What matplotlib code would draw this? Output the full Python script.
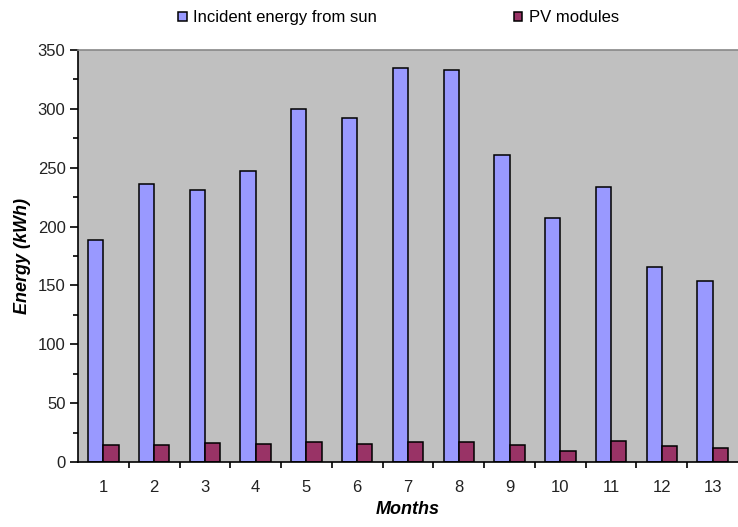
import numpy as np
import matplotlib.pyplot as plt
from matplotlib.ticker import MultipleLocator

plt.rcParams['font.family'] = ['Liberation Sans', 'DejaVu Sans']

months = list(range(1, 14))
incident = [189, 236, 231, 247, 300, 292, 335, 333, 261, 207, 234, 166, 154]
pv = [14.5, 14.5, 16, 15, 17.3, 15, 17.3, 17.3, 14.5, 9.3, 17.6, 13.3, 11.6]

fig = plt.figure(figsize=(7.38, 5.27), dpi=100)
ax = fig.add_axes([0.1057, 0.1233, 0.8943, 0.7818])
ax.set_facecolor('#C0C0C0')

x = np.array(months)
w = 0.3
ax.bar(x - w / 2, incident, w, color='#9999FF', edgecolor='black', linewidth=1.1,
       label='Incident energy from sun')
ax.bar(x + w / 2, pv, w, color='#993366', edgecolor='black', linewidth=1.1,
       label='PV modules')

ax.set_xlim(0.5, 13.5)
ax.set_ylim(0, 350)
ax.yaxis.set_major_locator(MultipleLocator(50))
ax.yaxis.set_minor_locator(MultipleLocator(25))

# labels at month centres, ticks on the boundaries between months
ax.set_xticks(x)
ax.set_xticklabels([str(m) for m in months])
ax.set_xticks(np.arange(1.5, 13.5, 1), minor=True)
ax.tick_params(axis='x', which='major', length=0, pad=13, labelsize=12, labelcolor='#222222')
ax.tick_params(axis='x', which='minor', length=4.5, width=1.2, direction='out')
ax.tick_params(axis='y', which='major', length=6, width=1.2, pad=3, labelsize=12, labelcolor='#222222')
ax.tick_params(axis='y', which='minor', length=3.5, width=1.2)

for s in ['left', 'bottom']:
    ax.spines[s].set_linewidth(1.2)
    ax.spines[s].set_color('black')
ax.spines['top'].set_color('#888888')
ax.spines['top'].set_linewidth(1.2)
ax.spines['right'].set_visible(False)

ax.set_xlabel('Months', fontsize=13, fontweight='bold', style='italic', labelpad=4)
ax.set_ylabel('Energy (kWh)', fontsize=13, fontweight='bold', style='italic', labelpad=5)

fig.legend(loc='center', bbox_to_anchor=(0.54, 0.966), ncol=2, frameon=False,
           fontsize=12, columnspacing=8.2, handlelength=0.5, handleheight=0.5,
           handletextpad=0.4)

fig.savefig('out.png', dpi=100)
